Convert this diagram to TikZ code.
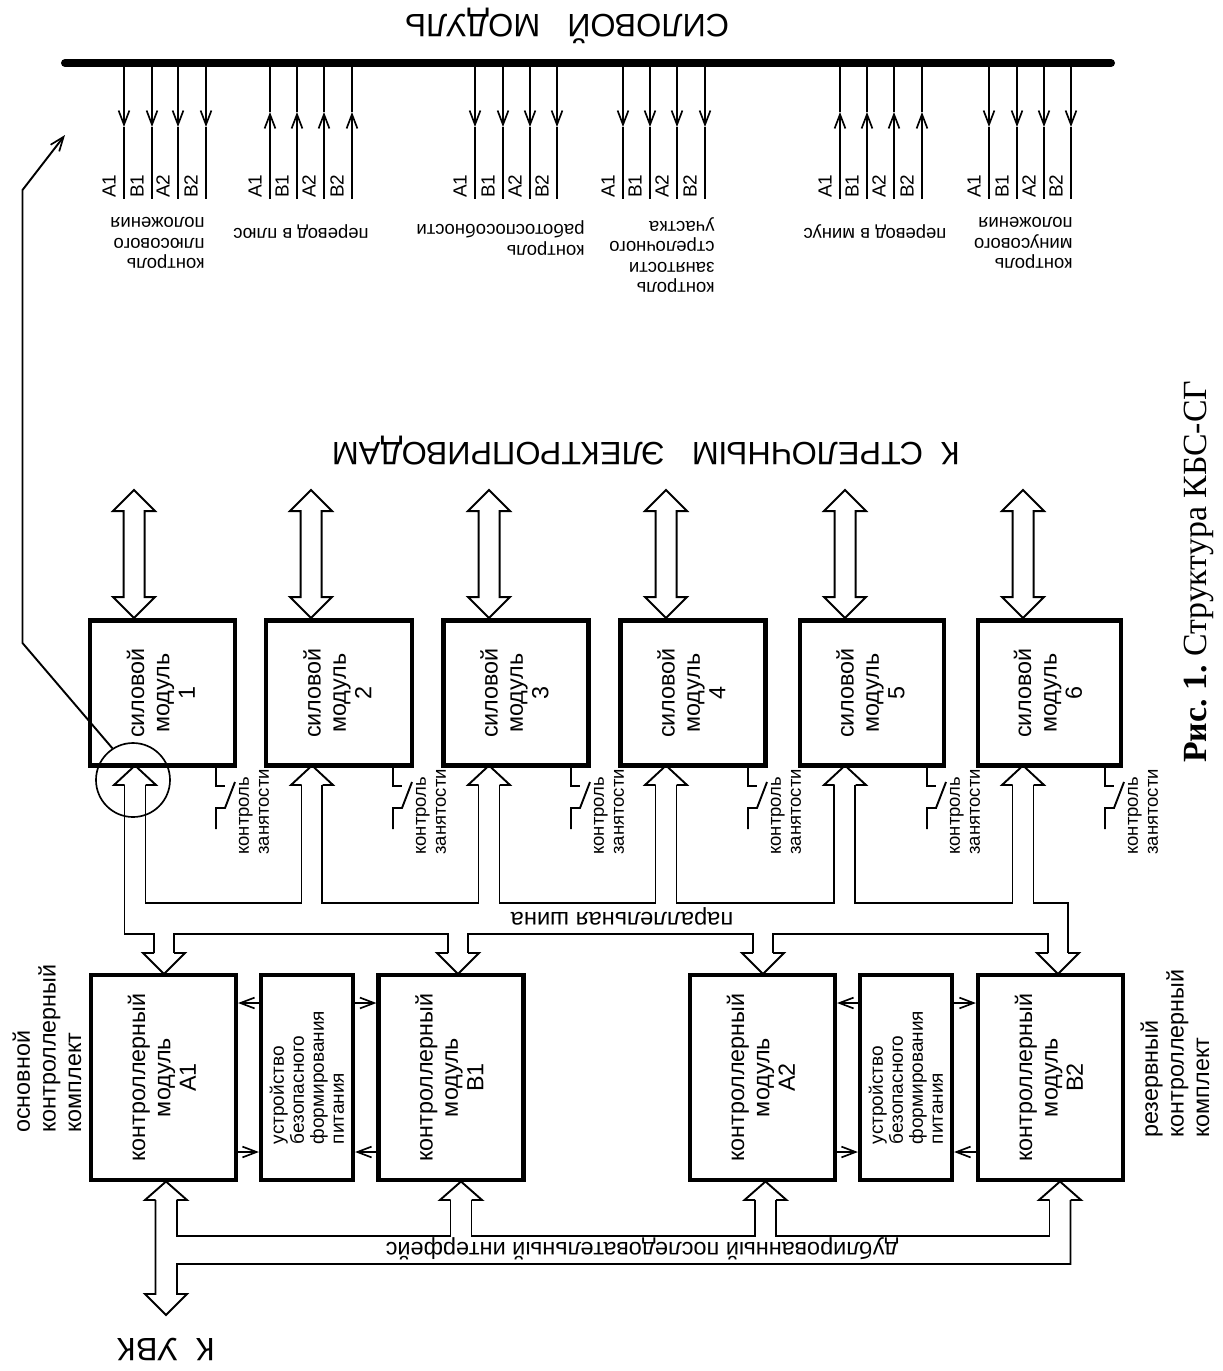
\documentclass[tikz,border=0pt]{standalone}
\usepackage{fontspec}
\setmainfont{Liberation Sans}
\newfontfamily\capfont{Liberation Serif}
\usetikzlibrary{arrows.meta}
\frenchspacing
\tikzset{
  thin line/.style={line width=1.15pt,line join=miter},
  outline/.style={line width=1.2pt,line join=miter,fill=white},
  barb/.style={-{Straight Barb[length=8.5pt,width=6.5pt,line width=1pt]}},
  boxthick/.style={draw,line width=2.5pt,rotate=90,inner sep=0pt,align=center},
  modbox/.style={boxthick,text depth=2pt,font=\fontsize{14.0}{15.2}\selectfont},
  unitbox/.style={draw,line width=2.5pt,rotate=90,inner sep=0pt,align=left,font=\fontsize{11.4}{12}\selectfont},
  small/.style={font=\fontsize{11.1}{12.3}\selectfont,align=left,inner sep=0pt},
  mid/.style={font=\fontsize{14.0}{15.4}\selectfont,align=left,inner sep=0pt},
  big/.style={font=\fontsize{19.4}{21}\selectfont,inner sep=0pt},
  buslab/.style={font=\fontsize{11.4}{12}\selectfont,inner sep=0pt},
}
\newcommand\dblarrow[3]{% x, top tip y, bottom tip y
  \draw[outline] (#1,#2) -- (#1+21,#2+21) -- (#1+10.5,#2+21) -- (#1+10.5,#3-21) -- (#1+21,#3-21) -- (#1,#3) -- (#1-21,#3-21) -- (#1-10.5,#3-21) -- (#1-10.5,#2+21) -- (#1-21,#2+21) -- cycle;}
\newcommand\contact[2]{% name, x
  \coordinate (#1a) at (#2,765);
  \coordinate (#1b) at (#2,829);
  \draw[thin line] (#1a) -- (#2,786) -- (#2+9,786);
  \draw[thin line] (#1b) -- (#2,808) -- (#2+9,808) -- (#2+19,782);
  \node[small,rotate=90,anchor=west,font=\fontsize{11.1}{12}\selectfont] (#1t) at (#2+38,855) {контроль\\занятости};}
\begin{document}
\begin{tikzpicture}[x=0.6pt,y=-0.6pt]
\useasboundingbox (0,0) rectangle (1223,1371);
% title and bar
\node[big,rotate=180] (title) at (567,26) {СИЛОВОЙ\ \ \ МОДУЛЬ};
\coordinate (busL) at (65,63);
\coordinate (busR) at (1111,63);
\draw[line width=4.8pt,line cap=round] (busL) -- (busR);
% signal groups
\foreach \g/\dir/\a/\b/\c/\d in {p/d/124/152/178/206, q/u/270/297/324/352, r/d/475/503/530/557, s/d/623/650/677/705, t/u/840/867/894/922, v/d/989/1017/1044/1071}{
  \foreach \n/\x/\L in {1/\a/A1,2/\b/B1,3/\c/A2,4/\d/B2}{
    \coordinate (\g\n top) at (\x,63);
    \coordinate (\g\n bot) at (\x,199);
    \if\dir d
      \coordinate (\g\n head) at (\x,127);
      \draw[thin line,barb] (\g\n top) -- (\g\n head);
      \draw[thin line] (\g\n head) -- (\g\n bot);
    \else
      \coordinate (\g\n head) at (\x,112);
      \draw[thin line,barb] (\g\n bot) -- (\g\n head);
      \draw[thin line] (\g\n head) -- (\g\n top);
    \fi
    \node[buslab,rotate=90,anchor=west] (\g\n lab) at (\x-15,198) {\L};
  }
}
% signal captions
\node[small,rotate=180,anchor=west] (capP) at (205,243) {контроль\\плюсового\\положения};
\node[small,rotate=180] (capQ) at (301,232) {перевод в плюс};
\node[small,rotate=180,anchor=west] (capR) at (585,238) {контроль\\работоспособности};
\node[small,rotate=180,anchor=west] (capS) at (715,255) {контроль\\занятости\\стрелочного\\участка};
\node[small,rotate=180] (capT) at (875,232) {перевод в минус};
\node[small,rotate=180,anchor=west] (capV) at (1073,243) {контроль\\минусового\\положения};
% actuators
\node[big,rotate=180] (actuators) at (646,451) {К\ \ СТРЕЛОЧНЫМ\ \ \ ЭЛЕКТРОПРИВОДАМ};
% double arrows up
\foreach \x in {134,311,489,666,845,1023}{\dblarrow{\x}{490}{618}}
% power modules
\node[modbox,minimum width=145*0.6pt,minimum height=145*0.6pt] (m1) at (162.5,693) {силовой\\модуль\\1};
\node[modbox,minimum width=145*0.6pt,minimum height=146*0.6pt] (m2) at (339,693) {силовой\\модуль\\2};
\node[modbox,minimum width=145*0.6pt,minimum height=145*0.6pt] (m3) at (516,693) {силовой\\модуль\\3};
\node[modbox,minimum width=145*0.6pt,minimum height=145*0.6pt] (m4) at (693,693) {силовой\\модуль\\4};
\node[modbox,minimum width=145*0.6pt,minimum height=144*0.6pt] (m5) at (872,693) {силовой\\модуль\\5};
\node[modbox,minimum width=145*0.6pt,minimum height=143*0.6pt] (m6) at (1049.5,693) {силовой\\модуль\\6};
% contacts
\contact{c1}{216}\contact{c2}{393}\contact{c3}{571}\contact{c4}{748}\contact{c5}{927}\contact{c6}{1105}
% controller modules
\node[modbox,minimum width=205*0.6pt,minimum height=145*0.6pt] (A1) at (163.5,1077.5) {контроллерный\\модуль\\А1};
\node[unitbox,minimum width=205*0.6pt,minimum height=92*0.6pt] (U1) at (307,1077.5) {устройство\\безопасного\\формирования\\питания};
\node[modbox,minimum width=205*0.6pt,minimum height=145*0.6pt] (B1) at (451,1077.5) {контроллерный\\модуль\\В1};
\node[modbox,minimum width=205*0.6pt,minimum height=145*0.6pt] (A2) at (762.5,1077.5) {контроллерный\\модуль\\А2};
\node[unitbox,minimum width=205*0.6pt,minimum height=92*0.6pt] (U2) at (906,1077.5) {устройство\\безопасного\\формирования\\питания};
\node[modbox,minimum width=205*0.6pt,minimum height=145*0.6pt] (B2) at (1050.5,1077.5) {контроллерный\\модуль\\В2};
% power links
\foreach \u/\l/\r in {U1/A1/B1,U2/A2/B2}{
  \draw[thin line,barb] (\u.north |- 0,1003) -- (\l.south |- 0,1003);
  \draw[thin line,barb] (\u.south |- 0,1003) -- (\r.north |- 0,1003);
  \draw[thin line,barb] (\l.south |- 0,1152) -- (\u.north |- 0,1152);
  \draw[thin line,barb] (\r.north |- 0,1152) -- (\u.south |- 0,1152);
}
% parallel bus, upper edge
\node[small,rotate=180,font=\fontsize{14.2}{15}\selectfont] (parbus) at (622,916) {параллельная шина};
\draw[thin line] (145.5,785) -- (145.5,903) -- (301.5,903) -- (301.5,785);
\draw[thin line] (322,785) -- (322,903) -- (478.5,903) -- (478.5,785);
\draw[thin line] (499.5,785) -- (499.5,903) -- (655.5,903) -- (655.5,785);
\draw[thin line] (676.5,785) -- (676.5,903) -- (834,903) -- (834,785);
\draw[thin line] (855,785) -- (855,903) -- (1012.5,903) -- (1012.5,785);
\draw[thin line] (1033.5,785) -- (1033.5,903) -- (1068,903) -- (1068,953);
% parallel bus, lower edge
\draw[thin line] (124.5,785) -- (124.5,934) -- (154,934) -- (154,953);
\draw[thin line] (174,953) -- (174,934) -- (448,934) -- (448,953);
\draw[thin line] (468,953) -- (468,934) -- (753,934) -- (753,953);
\draw[thin line] (773,953) -- (773,934) -- (1048,934) -- (1048,953);
% arrow heads on parallel bus
\foreach \x in {135,312,489,666,845,1023}{
  \draw[thin line] (\x-10.5,785) -- (\x-21,785) -- (\x,765.5) -- (\x+21,785) -- (\x+10.5,785);}
\foreach \x in {164,458,763,1058}{
  \draw[thin line] (\x-10,953) -- (\x-21,953) -- (\x,974) -- (\x+21,953) -- (\x+10,953);}
% serial bus
\node[small,rotate=180,font=\fontsize{14.1}{15}\selectfont] (serbus) at (642,1249) {дублированный последовательный интерфейс};
\foreach \x in {166,461,765.5,1060}{
  \draw[thin line] (\x-10.5,1200) -- (\x-21,1200) -- (\x,1181.5) -- (\x+21,1200) -- (\x+10.5,1200);}
\draw[thin line] (177,1200) -- (177,1236) -- (450.5,1236) -- (450.5,1200);
\draw[thin line] (471.5,1200) -- (471.5,1236) -- (755,1236) -- (755,1200);
\draw[thin line] (776,1200) -- (776,1236) -- (1049.5,1236) -- (1049.5,1200);
\draw[thin line] (1070.5,1200) -- (1070.5,1264) -- (177,1264) -- (177,1294) -- (187,1294) -- (166,1315) -- (145,1294) -- (155.5,1294) -- (155.5,1200);
\node[big,rotate=180] (uvk) at (166,1349) {К\ \ УВК};
% side labels
\node[mid,rotate=90,anchor=west] (sideL) at (47,1133) {основной\\контроллерный\\комплект};
\node[mid,rotate=90,anchor=west] (sideR) at (1175,1138) {резервный\\контроллерный\\комплект};
% magnifier
\node[draw,circle,line width=1pt,minimum size=74*0.6pt,inner sep=0pt] (lens) at (133,780) {};
\coordinate (lensTip) at (65,135);
\draw[thin line,barb] (lens.123) -- (22.5,643) -- (22.5,190) -- (lensTip);
% caption
\node[inner sep=0pt,rotate=90,anchor=west,font=\capfont\fontsize{20.3}{22}\selectfont] (caption) at (1199,763) {\textbf{Рис. 1.} Структура КБС-СГ};
\end{tikzpicture}
\end{document}
